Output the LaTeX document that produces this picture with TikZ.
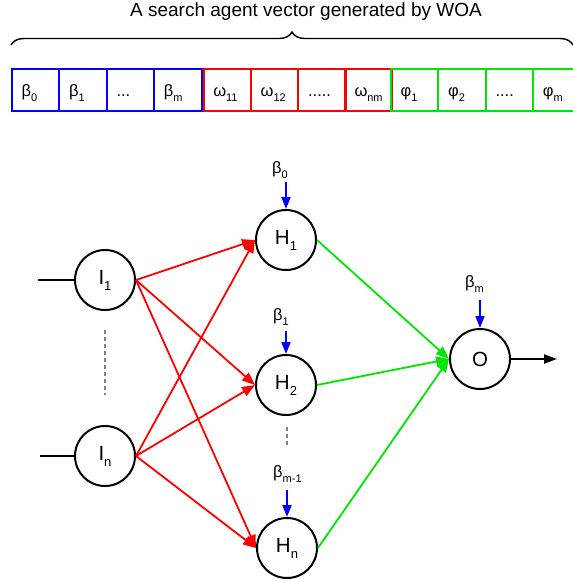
\documentclass[tikz,border=0pt]{standalone}
\usepackage{fontspec}
\setmainfont{Liberation Sans}
\usetikzlibrary{arrows.meta,decorations.pathreplacing,calc}
\definecolor{pblue}{RGB}{0,0,255}
\definecolor{pred}{RGB}{255,0,0}
\definecolor{pgreen}{RGB}{0,230,0}
\newcommand{\setfs}[1]{\fontsize{#1}{#1}\selectfont}
% subscript for the vector cells and bias labels
\newcommand{\csub}[1]{\raisebox{-5.5pt}{\setfs{11}#1}}
% subscript for the neuron labels
\newcommand{\nsub}[1]{\raisebox{-6pt}{\setfs{13}#1}}
% one cell of the agent vector: name, left x, colour, text
\newcommand{\vcell}[4]{%
  \node[cell,draw=#3] (#1) at (#2,68) {};
  \node[celltext] (#1t) at ($(#1.west)+(10.5,6)$) {#4};
}
\begin{document}
\begin{tikzpicture}[x=1pt,y=-1pt,
  cell/.style={rectangle,line width=2pt,minimum width=47.4pt,minimum height=42pt,
    anchor=north west,inner sep=0pt},
  celltext/.style={anchor=base west,inner sep=0pt,font=\setfs{16.5}},
  neuron/.style={circle,draw=black,line width=2pt,minimum size=60pt,inner sep=0pt,
    font=\setfs{20.5}},
  blabel/.style={anchor=base west,inner sep=0pt,font=\setfs{16.5}},
  redarrow/.style={draw=pred,line width=1.8pt,-{Triangle[length=13pt,width=10pt]},
    fill=pred},
  greenarrow/.style={draw=pgreen,line width=1.8pt,-{Triangle[length=13pt,width=10pt]},
    fill=pgreen},
  bluearrow/.style={draw=pblue,line width=2pt,-{Triangle[length=12pt,width=9pt]},
    fill=pblue},
  blackline/.style={draw=black,line width=2pt},
  vdots/.style={draw=gray,line width=1.2pt,dash pattern=on 4pt off 3pt}
]
\useasboundingbox (0,0) rectangle (573,582);

% title and brace
\node[anchor=base,inner sep=0pt,font=\setfs{19}] (title) at (306,16)
  {A search agent vector generated by WOA};
\coordinate (brl) at (11,45);
\coordinate (brr) at (573,45);
\draw[line width=1.4pt,decorate,decoration={brace,amplitude=13pt}] (brl) -- (brr);

% the agent vector
\vcell{c0}{11}{pblue}{β\csub{0}}
\vcell{c1}{58.4}{pblue}{β\csub{1}}
\vcell{c2}{105.8}{pblue}{...}
\vcell{c3}{153.2}{pblue}{β\csub{m}}
\vcell{c4}{202.6}{pred}{ω\csub{11}}
\vcell{c5}{250}{pred}{ω\csub{12}}
\vcell{c6}{297.4}{pred}{.....}
\vcell{c7}{343.8}{pred}{ω\csub{nm}}
\vcell{c8}{390}{pgreen}{φ\csub{1}}
\vcell{c9}{437.4}{pgreen}{φ\csub{2}}
\vcell{c10}{484.8}{pgreen}{....}
\vcell{c11}{532.2}{pgreen}{φ\csub{m}}

% neurons
\node[neuron] (I1) at (105,280) {I\nsub{1}};
\node[neuron] (In) at (105,456) {I\nsub{n}};
\node[neuron] (H1) at (286,240) {H\nsub{1}};
\node[neuron] (H2) at (286,385) {H\nsub{2}};
\node[neuron] (Hn) at (287,548) {H\nsub{n}};
\node[neuron] (O)  at (480,359) {O};

% inputs and output
\coordinate (in1) at (38,280);
\coordinate (inn) at (40,456);
\coordinate (out) at (557,359);
\draw[blackline] (in1) -- (I1.west);
\draw[blackline] (inn) -- (In.west);
\draw[blackline,-{Triangle[length=13pt,width=9pt]},fill=black] (O.east) -- (out);

% ellipses between neurons
\coordinate (di1) at (105,330);
\coordinate (di2) at (105,395);
\coordinate (dh1) at (287,427);
\coordinate (dh2) at (287,446);
\draw[vdots] (di1) -- (di2);
\draw[vdots] (dh1) -- (dh2);

% input-to-hidden weights
\foreach \s in {I1,In}
  \foreach \t in {H1,H2,Hn}
    \draw[redarrow] (\s.east) -- (\t.west);

% hidden-to-output weights
\foreach \s in {H1,H2,Hn}
  \draw[greenarrow] (\s.east) -- (O.west);

% biases
\coordinate (b0) at ($(H1.north)+(0,-27)$);
\coordinate (b1) at ($(H2.north)+(0,-23)$);
\coordinate (bm1) at ($(Hn.north)+(0,-27)$);
\coordinate (bm) at ($(O.north)+(0,-28)$);
\draw[bluearrow] (b0) -- (H1.north);
\draw[bluearrow] (b1) -- (H2.north);
\draw[bluearrow] (bm1) -- (Hn.north);
\draw[bluearrow] (bm) -- (O.north);
\node[blabel] (lb0) at (272,173) {β\csub{0}};
\node[blabel] (lb1) at (273,320) {β\csub{1}};
\node[blabel] (lbm1) at (273,477) {β\csub{m-1}};
\node[blabel] (lbm) at (465,287) {β\csub{m}};
\end{tikzpicture}
\end{document}
